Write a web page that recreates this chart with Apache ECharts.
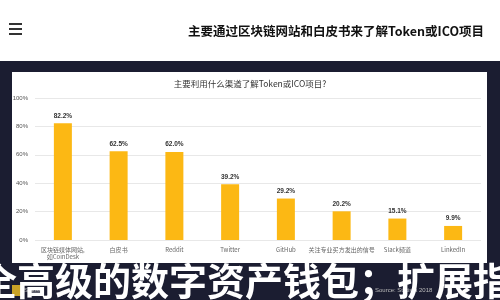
<!DOCTYPE html>
<html>
<head>
<meta charset="utf-8">
<script src="https://cdn.jsdelivr.net/npm/echarts@6/dist/echarts.min.js"></script>
<style>
html,body{margin:0;padding:0;background:#fff;}
#c{width:500px;height:300px;}
</style>
</head>
<body>
<div id="c"></div>
<script>
const pageTitle = '主要通过区块链网站和白皮书来了解Token或ICO项目';
const chartTitle = '主要利用什么渠道了解Token或ICO项目?';
const categories = ['区块链媒体网站,\n如CoinDesk', '白皮书', 'Reddit', 'Twitter', 'GitHub', '关注专业买方发出的信号', 'Slack频道', 'LinkedIn'];
const values = [82.2, 62.5, 62.0, 39.2, 29.2, 20.2, 15.1, 9.9];
const yTicks = [0, 20, 40, 60, 80, 100];
const bannerText = '全高级的数字资产钱包；扩展指南';

const navy = '#1b1d31';
const chart = echarts.init(document.getElementById('c'), null, {renderer: 'canvas'});
chart.setOption({
  backgroundColor: '#ffffff',
  animation: false,
  grid: {left: 35, right: 19, top: 98, bottom: 60, containLabel: false},
  xAxis: {
    type: 'category', data: categories,
    axisLine: {show: false}, axisTick: {show: false},
    axisLabel: {fontSize: 6, color: '#666', interval: 0, margin: 6, lineHeight: 7, fontFamily: 'Noto Sans CJK SC'}
  },
  yAxis: {
    type: 'value', min: yTicks[0], max: yTicks[yTicks.length - 1], interval: 20,
    axisLine: {show: false}, axisTick: {show: false},
    axisLabel: {fontSize: 6, color: '#555', formatter: '{value}%', margin: 7},
    splitLine: {lineStyle: {color: '#e8e8e8', width: 1}}
  },
  series: [{
    type: 'bar', data: values, barWidth: 18,
    itemStyle: {color: '#fcb814'},
    label: {show: true, position: 'top', fontSize: 6.5, color: '#333', fontWeight: 'bold',
            formatter: p => p.value.toFixed(1) + '%', distance: 4}
  }],
  graphic: [
    {type: 'text', x: 336, y: 31, z: 12,
     style: {text: pageTitle, fontSize: 12.5, fontWeight: 'bold', fill: '#111',
             align: 'center', verticalAlign: 'middle', fontFamily: 'Noto Sans CJK SC'}},
    {type: 'text', x: 250, y: 84, z: 12,
     style: {text: chartTitle, fontSize: 8.5, fill: '#333',
             align: 'center', verticalAlign: 'middle', fontFamily: 'Noto Sans CJK SC'}},
    {type: 'rect', shape: {x: 0, y: 61, width: 500, height: 11}, style: {fill: navy}, z: 10},
    {type: 'rect', shape: {x: 0, y: 61, width: 12, height: 239}, style: {fill: navy}, z: 10},
    {type: 'rect', shape: {x: 487, y: 61, width: 13, height: 239}, style: {fill: navy}, z: 10},
    {type: 'rect', shape: {x: 0, y: 263, width: 500, height: 37}, style: {fill: navy}, z: 10},
    {type: 'rect', shape: {x: 9, y: 23, width: 13, height: 2}, style: {fill: '#333'}, z: 10},
    {type: 'rect', shape: {x: 9, y: 28, width: 13, height: 2}, style: {fill: '#333'}, z: 10},
    {type: 'rect', shape: {x: 9, y: 33, width: 13, height: 2}, style: {fill: '#333'}, z: 10},
    {type: 'rect', shape: {x: 12, y: 285, width: 9, height: 11}, style: {fill: '#c9a227'}, z: 11},
    {type: 'text', left: 24, top: 287, style: {text: 'Statista', fontSize: 6, fill: '#bbb'}, z: 11},
    {type: 'text', left: 375, top: 287, style: {text: 'Source: Statista 2018', fontSize: 6, fill: '#bbb'}, z: 11},
    {type: 'text', x: 264, y: 281, z: 12,
     style: {text: bannerText, fontSize: 38, fontWeight: 'bold', fill: '#ffffff',
             align: 'center', verticalAlign: 'middle', fontFamily: 'Noto Sans CJK SC'}}
  ]
});
</script>
</body>
</html>
